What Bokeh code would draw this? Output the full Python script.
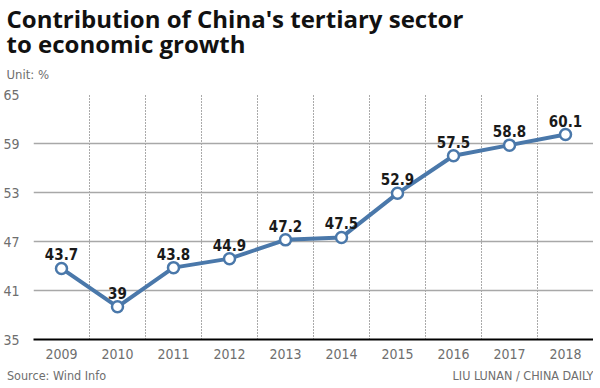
from bokeh.plotting import figure
from bokeh.models import Title, FixedTicker, Range1d, ColumnDataSource, LinearAxis
from bokeh.core.properties import value
from bokeh.embed import file_html
from bokeh.resources import INLINE

years = ["2009", "2010", "2011", "2012", "2013", "2014", "2015", "2016", "2017", "2018"]
values = [43.7, 39, 43.8, 44.9, 47.2, 47.5, 52.9, 57.5, 58.8, 60.1]
value_labels = ["43.7", "39", "43.8", "44.9", "47.2", "47.5", "52.9", "57.5", "58.8", "60.1"]
y_ticks = [35, 41, 47, 53, 59, 65]
title_lines = ["Contribution of China's tertiary sector", "to economic growth"]
unit_text = "Unit: %"
source_text = "Source: Wind Info"
credit_text = "LIU LUNAN / CHINA DAILY"

BLUE = "#4a78aa"
GRAY = "#6e6e6e"
COND = "'DejaVu Sans Condensed', 'Liberation Sans Narrow', Roboto"
FW = 560  # frame width in px

p = figure(frame_width=FW, frame_height=245, output_backend="svg", toolbar_location=None,
           x_range=Range1d(-0.5, len(years) - 0.5), y_range=Range1d(35, 65),
           min_border_left=24, min_border_right=0, min_border_top=85, min_border_bottom=0)
p.outline_line_color = None

xs = list(range(len(years)))
src = ColumnDataSource(dict(x=xs, y=values, lab=value_labels))

p.line("x", "y", source=src, line_color=BLUE, line_width=4)
p.scatter("x", "y", source=src, size=11, fill_color="white", line_color=BLUE, line_width=2.5)
p.text("x", "y", text="lab", source=src, text_align="center", text_baseline="bottom",
       y_offset=-8, text_font=value(COND), text_font_size="15px", text_font_style="bold",
       text_color="#1a1a1a")

p.xaxis.ticker = FixedTicker(ticks=xs)
p.xaxis.major_label_overrides = {i: y for i, y in enumerate(years)}
p.xaxis.axis_line_color = "black"
p.xaxis.axis_line_width = 2
p.xaxis.major_tick_line_color = None
p.xaxis.minor_tick_line_color = None
p.xaxis.major_label_text_font = COND
p.xaxis.major_label_text_font_size = "14px"
p.xaxis.major_label_text_color = GRAY
p.xaxis.major_label_standoff = 3

p.yaxis.ticker = FixedTicker(ticks=y_ticks)
p.yaxis.axis_line_color = None
p.yaxis.major_tick_line_color = None
p.yaxis.minor_tick_line_color = None
p.yaxis.major_label_text_font = COND
p.yaxis.major_label_text_font_size = "14px"
p.yaxis.major_label_text_color = GRAY
p.yaxis.major_label_standoff = 8

p.ygrid.ticker = FixedTicker(ticks=y_ticks[1:])
p.ygrid.grid_line_color = "#a8a8a8"
p.ygrid.grid_line_width = 1.3
p.xgrid.ticker = FixedTicker(ticks=[i - 0.5 for i in range(len(years) + 1)])
p.xgrid.grid_line_color = "#555555"
p.xgrid.grid_line_dash = "1 2"
p.xgrid.grid_line_width = 1

# footer: source (left) and credit (right) as labels of an extra, line-less axis
p.extra_x_ranges = {"foot": Range1d(0, FW)}
foot = LinearAxis(x_range_name="foot", ticker=FixedTicker(ticks=[23, 492]),
                  major_label_overrides={23: source_text, 492: credit_text})
foot.axis_line_color = None
foot.major_tick_line_color = None
foot.minor_tick_line_color = None
foot.major_label_text_font = COND
foot.major_label_text_font_size = "12.5px"
foot.major_label_text_color = GRAY
foot.major_label_standoff = 0
p.add_layout(foot, "below")

# titles: added nearest-first
p.add_layout(Title(text=unit_text, align="left", offset=-27, standoff=26,
                   text_font=COND, text_font_size="13px", text_color=GRAY,
                   text_font_style="normal"), "above")
p.add_layout(Title(text=title_lines[1], align="left", offset=-27, standoff=-17,
                   text_font="Open Sans", text_font_size="24px", text_color="#111111",
                   text_font_style="bold"), "above")
p.add_layout(Title(text=title_lines[0], align="left", offset=-27, standoff=-2,
                   text_font="Open Sans", text_font_size="24px", text_color="#111111",
                   text_font_style="bold"), "above")

open("out.html", "w").write(file_html(p, INLINE))
